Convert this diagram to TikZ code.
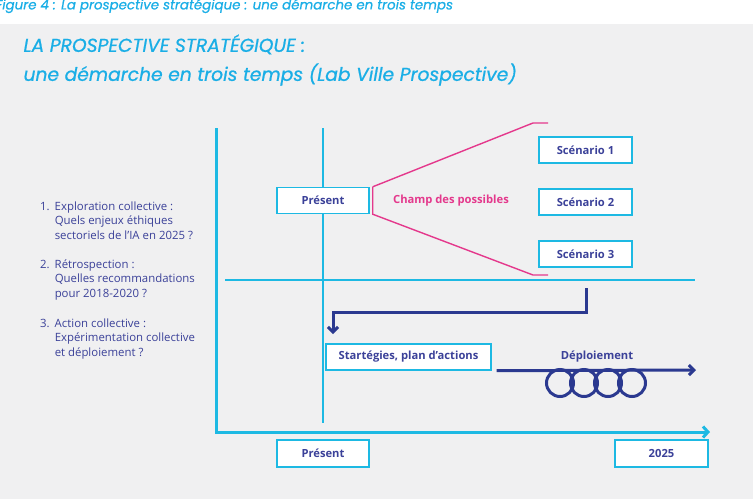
\documentclass[tikz,border=0pt]{standalone}
\usepackage{fontspec}
\setmainfont{Open Sans}
\newfontfamily\titlefont[FakeBold=0.8]{Poppins}
\usetikzlibrary{arrows.meta}
\definecolor{cyanline}{HTML}{1DB9E3}
\definecolor{titlecyan}{HTML}{1AAEE6}
\definecolor{navy}{HTML}{2B3990}
\definecolor{textnavy}{HTML}{3B4199}
\definecolor{pinkline}{HTML}{E4388C}
\definecolor{bggray}{HTML}{F0F0F1}
\begin{document}
\begin{tikzpicture}[x=1pt, y=-1pt,
    box/.style={draw=cyanline, line width=1.4pt, fill=white, minimum height=26pt,
      inner sep=0pt, text=textnavy, font=\bfseries\fontsize{11.2}{12}\selectfont},
    axis/.style={cyanline, line width=3pt},
    thinline/.style={cyanline, line width=1.5pt},
    fan/.style={pinkline, line width=1.4pt},
    navyarrow/.style={navy, line width=3pt, -{Straight Barb[length=5pt,width=10pt]}},
    steps/.style={anchor=north west, text=textnavy, align=left, inner sep=0pt,
      font=\fontsize{11.4}{14.5}\selectfont}]
    \useasboundingbox (0,0) rectangle (756,499);
    \clip (0,0) rectangle (756,499);

    % Background and titles
    \fill[bggray] (0,24) rectangle (753,499);
    \node[anchor=west, text=titlecyan, font=\titlefont\itshape\fontsize{13.4}{15}\selectfont]
        (caption) at (-8,6) {Figure 4 : La prospective stratégique : une démarche en trois temps};
    \node[anchor=north west, align=left, text=titlecyan,
        font=\titlefont\itshape\fontsize{18.7}{29}\selectfont]
        (title) at (20,31) {LA PROSPECTIVE STRATÉGIQUE :\\une démarche en trois temps (Lab Ville Prospective)};

    % Axes and guide lines
    \coordinate (ytop) at (216,128);
    \coordinate (xend) at (710,432);
    \coordinate (nowtop) at (323,128);
    \coordinate (nowbot) at (323,423);
    \coordinate (midleft) at (225,280);
    \coordinate (midright) at (695,280);
    \draw[axis, -{Straight Barb[length=5pt,width=11pt]}] (ytop) |- (xend);
    \draw[thinline] (nowtop) -- (nowbot);
    \draw[thinline] (midleft) -- (midright);

    % Steps
    \node[steps] (step1) at (40,200) {\begin{tabular}{@{}l@{\hspace{5pt}}l@{}}1. & Exploration collective :\\
        & Quels enjeux éthiques\\ & sectoriels de l'IA en 2025 ?\end{tabular}};
    \node[steps] (step2) at (40,258) {\begin{tabular}{@{}l@{\hspace{5pt}}l@{}}2. & Rétrospection :\\
        & Quelles recommandations\\ & pour 2018-2020 ?\end{tabular}};
    \node[steps] (step3) at (40,317) {\begin{tabular}{@{}l@{\hspace{5pt}}l@{}}3. & Action collective :\\
        & Expérimentation collective\\ & et déploiement ?\end{tabular}};

    % Present and scenarios
    \node[box, minimum width=92pt] (present) at (323,200.5) {Présent};
    \node[box, minimum width=93pt] (scen1) at (585.5,150) {Scénario 1};
    \node[box, minimum width=93pt] (scen2) at (585.5,202) {Scénario 2};
    \node[box, minimum width=93pt] (scen3) at (585.5,254) {Scénario 3};

    % Field of possibilities
    \coordinate (fanup) at (533,123);
    \coordinate (fanupend) at (548,123);
    \coordinate (fandown) at (533,275);
    \coordinate (fandownend) at (548,275);
    \draw[fan] ([xshift=3pt]present.north east) -- (fanup) -- (fanupend);
    \draw[fan] ([xshift=3pt]present.north east) -- ([xshift=3pt]present.south east) -- (fandown) -- (fandownend);
    \node[text=pinkline, font=\bfseries\fontsize{11.2}{12}\selectfont] (field) at (451,200.5) {Champ des possibles};

    % Strategies and deployment
    \node[box, minimum width=165pt] (strat) at (408.5,357) {Startégies, plan d'actions};
    \coordinate (retro) at (586,288);
    \coordinate (retrotip) at (333,334);
    \draw[navyarrow] (retro) |- ++(0,24) -| (retrotip);
    \coordinate (deployend) at (696,370);
    \draw[navyarrow] ([xshift=5pt]strat.south east) -- (deployend);
    \node[text=textnavy, font=\bfseries\fontsize{11.2}{12}\selectfont] (deploy) at (597,357) {Déploiement};
    \foreach \cx in {560,584,608,632}
        \draw[navy, line width=3pt] (\cx,383) circle (13.5);

    % Time labels
    \node[box, minimum width=92pt, minimum height=27pt] (now) at (323,453.5) {Présent};
    \node[box, minimum width=93pt, minimum height=27pt] (horizon) at (661.5,453.5) {2025};
\end{tikzpicture}
\end{document}
